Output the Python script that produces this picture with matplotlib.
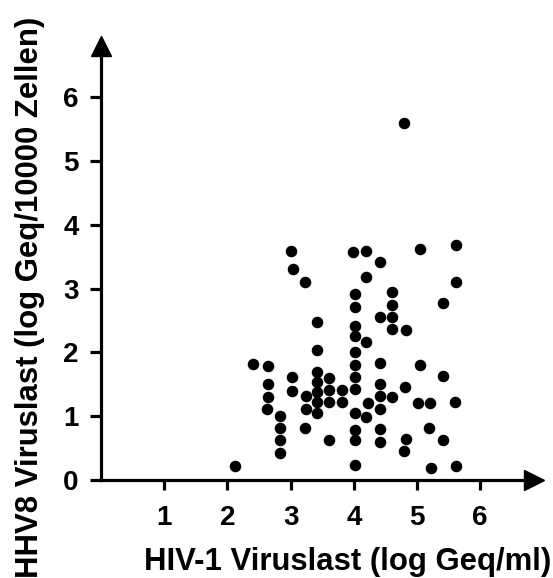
import matplotlib
matplotlib.use("Agg")
import matplotlib.pyplot as plt

# HIV-1 viral load (x) vs HHV8 viral load (y)
hiv1 = [2.12, 2.40, 2.64, 2.64, 2.64, 2.62, 2.83, 2.83, 2.83, 2.83,
        3.00, 3.03, 3.22, 3.02, 3.02, 3.24, 3.24, 3.23,
        3.42, 3.42, 3.42, 3.42, 3.42, 3.42, 3.42,
        3.61, 3.61, 3.61, 3.61, 3.82, 3.82,
        3.99, 4.02, 4.02, 4.02, 4.02, 4.02, 4.02, 4.02, 4.02, 4.02, 4.02, 4.02, 4.02,
        4.20, 4.20, 4.20, 4.22, 4.20,
        4.42, 4.42, 4.42, 4.42, 4.42, 4.42, 4.42, 4.42,
        4.60, 4.60, 4.60, 4.60, 4.60,
        4.79, 4.83, 4.81, 4.82, 4.79,
        5.05, 5.05, 5.01, 5.20, 5.19, 5.22,
        5.41, 5.41, 5.41,
        5.62, 5.62, 5.60, 5.62]
hhv8 = [0.22, 1.82, 1.79, 1.50, 1.30, 1.11, 1.01, 0.81, 0.63, 0.43,
        3.59, 3.30, 3.10, 1.62, 1.40, 1.31, 1.12, 0.81,
        2.48, 2.03, 1.70, 1.54, 1.38, 1.22, 1.05,
        1.60, 1.41, 1.22, 0.62, 1.41, 1.23,
        3.58, 2.91, 2.71, 2.42, 2.25, 2.00, 1.80, 1.62, 1.43, 1.05, 0.79, 0.62, 0.24,
        3.59, 3.19, 2.17, 1.20, 0.99,
        3.42, 2.56, 1.84, 1.50, 1.31, 1.11, 0.80, 0.60,
        2.95, 2.74, 2.55, 2.36, 1.30,
        5.59, 2.35, 1.45, 0.64, 0.46,
        3.62, 1.81, 1.21, 1.21, 0.81, 0.19,
        2.77, 1.63, 0.62,
        3.69, 3.11, 1.23, 0.22]

x_ticks = [1, 2, 3, 4, 5, 6]
y_ticks = [0, 1, 2, 3, 4, 5, 6]

plt.rcParams['font.family'] = ['Liberation Sans', 'DejaVu Sans']
plt.rcParams['font.weight'] = 'bold'

fig = plt.figure(figsize=(5.53, 5.78), dpi=100)
ax = fig.add_axes([0.1826, 0.1696, 0.799, 0.7647])

ax.plot(hiv1, hhv8, 'o', color='black', markersize=7.3, clip_on=False)

ax.set_xlim(0, 6.99)
ax.set_ylim(0, 6.93)

for side in ['top', 'right']:
    ax.spines[side].set_visible(False)
ax.spines['left'].set_linewidth(2.3)
ax.spines['bottom'].set_linewidth(2.3)
ax.spines['left'].set_bounds(0, 6.8)
ax.spines['bottom'].set_bounds(0, 6.85)

# arrow heads
ax.plot(6.85, 0, '>', color='black', markersize=14, clip_on=False)
ax.plot(0, 6.8, '^', color='black', markersize=14, clip_on=False)

ax.set_xticks(x_ticks)
ax.set_yticks(y_ticks)
ax.tick_params(axis='x', direction='out', length=7, width=2.3, pad=11,
               labelsize=20)
ax.tick_params(axis='y', direction='out', length=8, width=2.3, pad=8,
               labelsize=20)

fig.text(0.628, 0.0138, 'HIV-1 Viruslast (log Geq/ml)', ha='center',
         va='baseline', fontsize=22.4, fontweight='bold')
fig.text(0.0687, 0.485, 'HHV8 Viruslast (log Geq/10000 Zellen)', ha='center',
         va='baseline', rotation=90, rotation_mode='anchor',
         fontsize=22.4, fontweight='bold')

fig.savefig('out.png', dpi=100)
